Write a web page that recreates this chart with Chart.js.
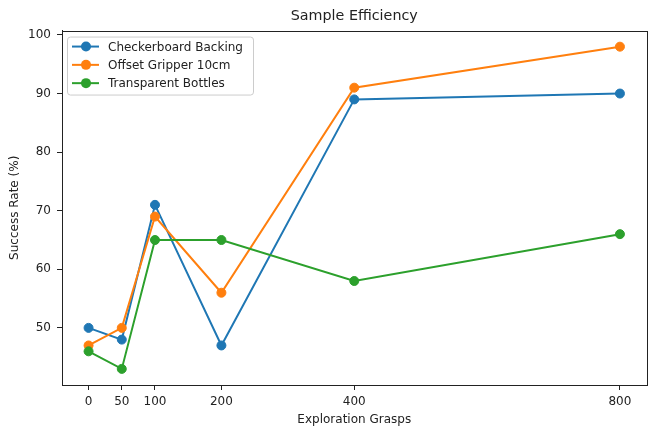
<!DOCTYPE html>
<html>
<head>
<meta charset="utf-8">
<script src="https://cdn.jsdelivr.net/npm/chart.js@4.4.0/dist/chart.umd.min.js"></script>
<style>
  html, body { margin: 0; padding: 0; background: #fff; overflow: hidden; }
  canvas { display: block; }
</style>
</head>
<body>
<canvas id="chart" width="652" height="428"></canvas>
<script>
// Data
const grasps = [0, 50, 100, 200, 400, 800];
const checkerboard = [50, 48, 71, 47, 89, 90];
const offsetGripper = [47, 50, 69, 56, 91, 98];
const transparent = [46, 43, 65, 65, 58, 66];
const xTicks = [0, 50, 100, 200, 400, 800];
const yTicks = [50, 60, 70, 80, 90, 100];

const labels = ["Checkerboard Backing", "Offset Gripper 10cm", "Transparent Bottles"];
const colors = ["#1f77b4", "#ff7f0e", "#2ca02c"];
const FONT = "'DejaVu Sans', sans-serif";

function toPoints(values) {
    return grasps.map((g, i) => ({x: g, y: values[i]}));
}

function makeDataset(i, values) {
    return {
        label: labels[i],
        data: toPoints(values),
        borderColor: colors[i],
        backgroundColor: colors[i],
        pointBackgroundColor: colors[i],
        pointBorderColor: colors[i],
        pointRadius: 4.5,
        pointHoverRadius: 4.5,
        pointBorderWidth: 1,
        borderWidth: 2,
        tension: 0,
        order: 3 - i,
    };
}

// box round the plot + legend inside the axes, like matplotlib
const framePlugin = {
    id: "frame",
    afterDraw(chart) {
        const ctx = chart.ctx;
        const a = chart.chartArea;
        ctx.save();
        ctx.strokeStyle = "#222";
        ctx.lineWidth = 1;
        ctx.strokeRect(Math.round(a.left) + 0.5, Math.round(a.top) + 0.5,
            Math.round(a.right - a.left), Math.round(a.bottom - a.top));

        // legend
        const lx = a.left + 5, ly = a.top + 6, lw = 186, lh = 58;
        ctx.beginPath();
        ctx.roundRect(lx + 0.5, ly + 0.5, lw, lh, 3);
        ctx.fillStyle = "rgba(255,255,255,0.8)";
        ctx.fill();
        ctx.strokeStyle = "#cccccc";
        ctx.stroke();
        ctx.font = "12px " + FONT;
        ctx.textBaseline = "middle";
        chart.data.datasets.forEach((ds, i) => {
            const y = ly + 10 + i * 18.3;
            ctx.strokeStyle = ds.borderColor;
            ctx.lineWidth = 2;
            ctx.beginPath();
            ctx.moveTo(lx + 5, y);
            ctx.lineTo(lx + 32, y);
            ctx.stroke();
            ctx.fillStyle = ds.borderColor;
            ctx.beginPath();
            ctx.arc(lx + 19, y, 5, 0, Math.PI * 2);
            ctx.fill();
            ctx.fillStyle = "#222";
            ctx.fillText(ds.label, lx + 41, y + 1);
        });
        ctx.restore();
    }
};

new Chart(document.getElementById("chart").getContext("2d"), {
    type: "line",
    data: {
        datasets: [
            makeDataset(0, checkerboard),
            makeDataset(1, offsetGripper),
            makeDataset(2, transparent),
        ]
    },
    options: {
        responsive: false,
        animation: false,
        events: [],
        layout: { padding: 0 },
        plugins: {
            legend: { display: false },
            tooltip: { enabled: false },
            title: {
                display: true,
                text: "Sample Efficiency",
                fullSize: false,
                color: "#222",
                font: { family: FONT, size: 14.3, weight: "normal", lineHeight: 1.2 },
                padding: { top: 8, bottom: 5.4 },
            },
        },
        scales: {
            x: {
                type: "linear",
                min: -40,
                max: 840,
                afterBuildTicks: scale => { scale.ticks = xTicks.map(v => ({value: v})); },
                afterFit: scale => { scale.height = 43; },
                grid: { display: true, drawOnChartArea: false, drawTicks: true, tickLength: 5, color: "#222" },
                border: { display: true, color: "#222", width: 1 },
                ticks: {
                    callback: v => String(v),
                    color: "#222",
                    padding: 5,
                    maxRotation: 0,
                    autoSkip: false,
                    font: { family: FONT, size: 12 },
                },
                title: {
                    display: true,
                    text: "Exploration Grasps",
                    color: "#222",
                    font: { family: FONT, size: 12 },
                    padding: { top: 0, bottom: 1 },
                },
            },
            y: {
                type: "linear",
                min: 40.25,
                max: 100.75,
                afterBuildTicks: scale => { scale.ticks = yTicks.map(v => ({value: v})); },
                afterFit: scale => { scale.width = 62; },
                grid: { display: true, drawOnChartArea: false, drawTicks: true, tickLength: 5, color: "#222" },
                border: { display: true, color: "#222", width: 1 },
                ticks: {
                    callback: v => String(v),
                    color: "#222",
                    padding: 6,
                    font: { family: FONT, size: 12 },
                },
                title: {
                    display: true,
                    text: "Success Rate (%)",
                    color: "#222",
                    font: { family: FONT, size: 12 },
                    padding: { top: 8, bottom: 0 },
                },
            },
        },
    },
    plugins: [framePlugin],
});
</script>
</body>
</html>
